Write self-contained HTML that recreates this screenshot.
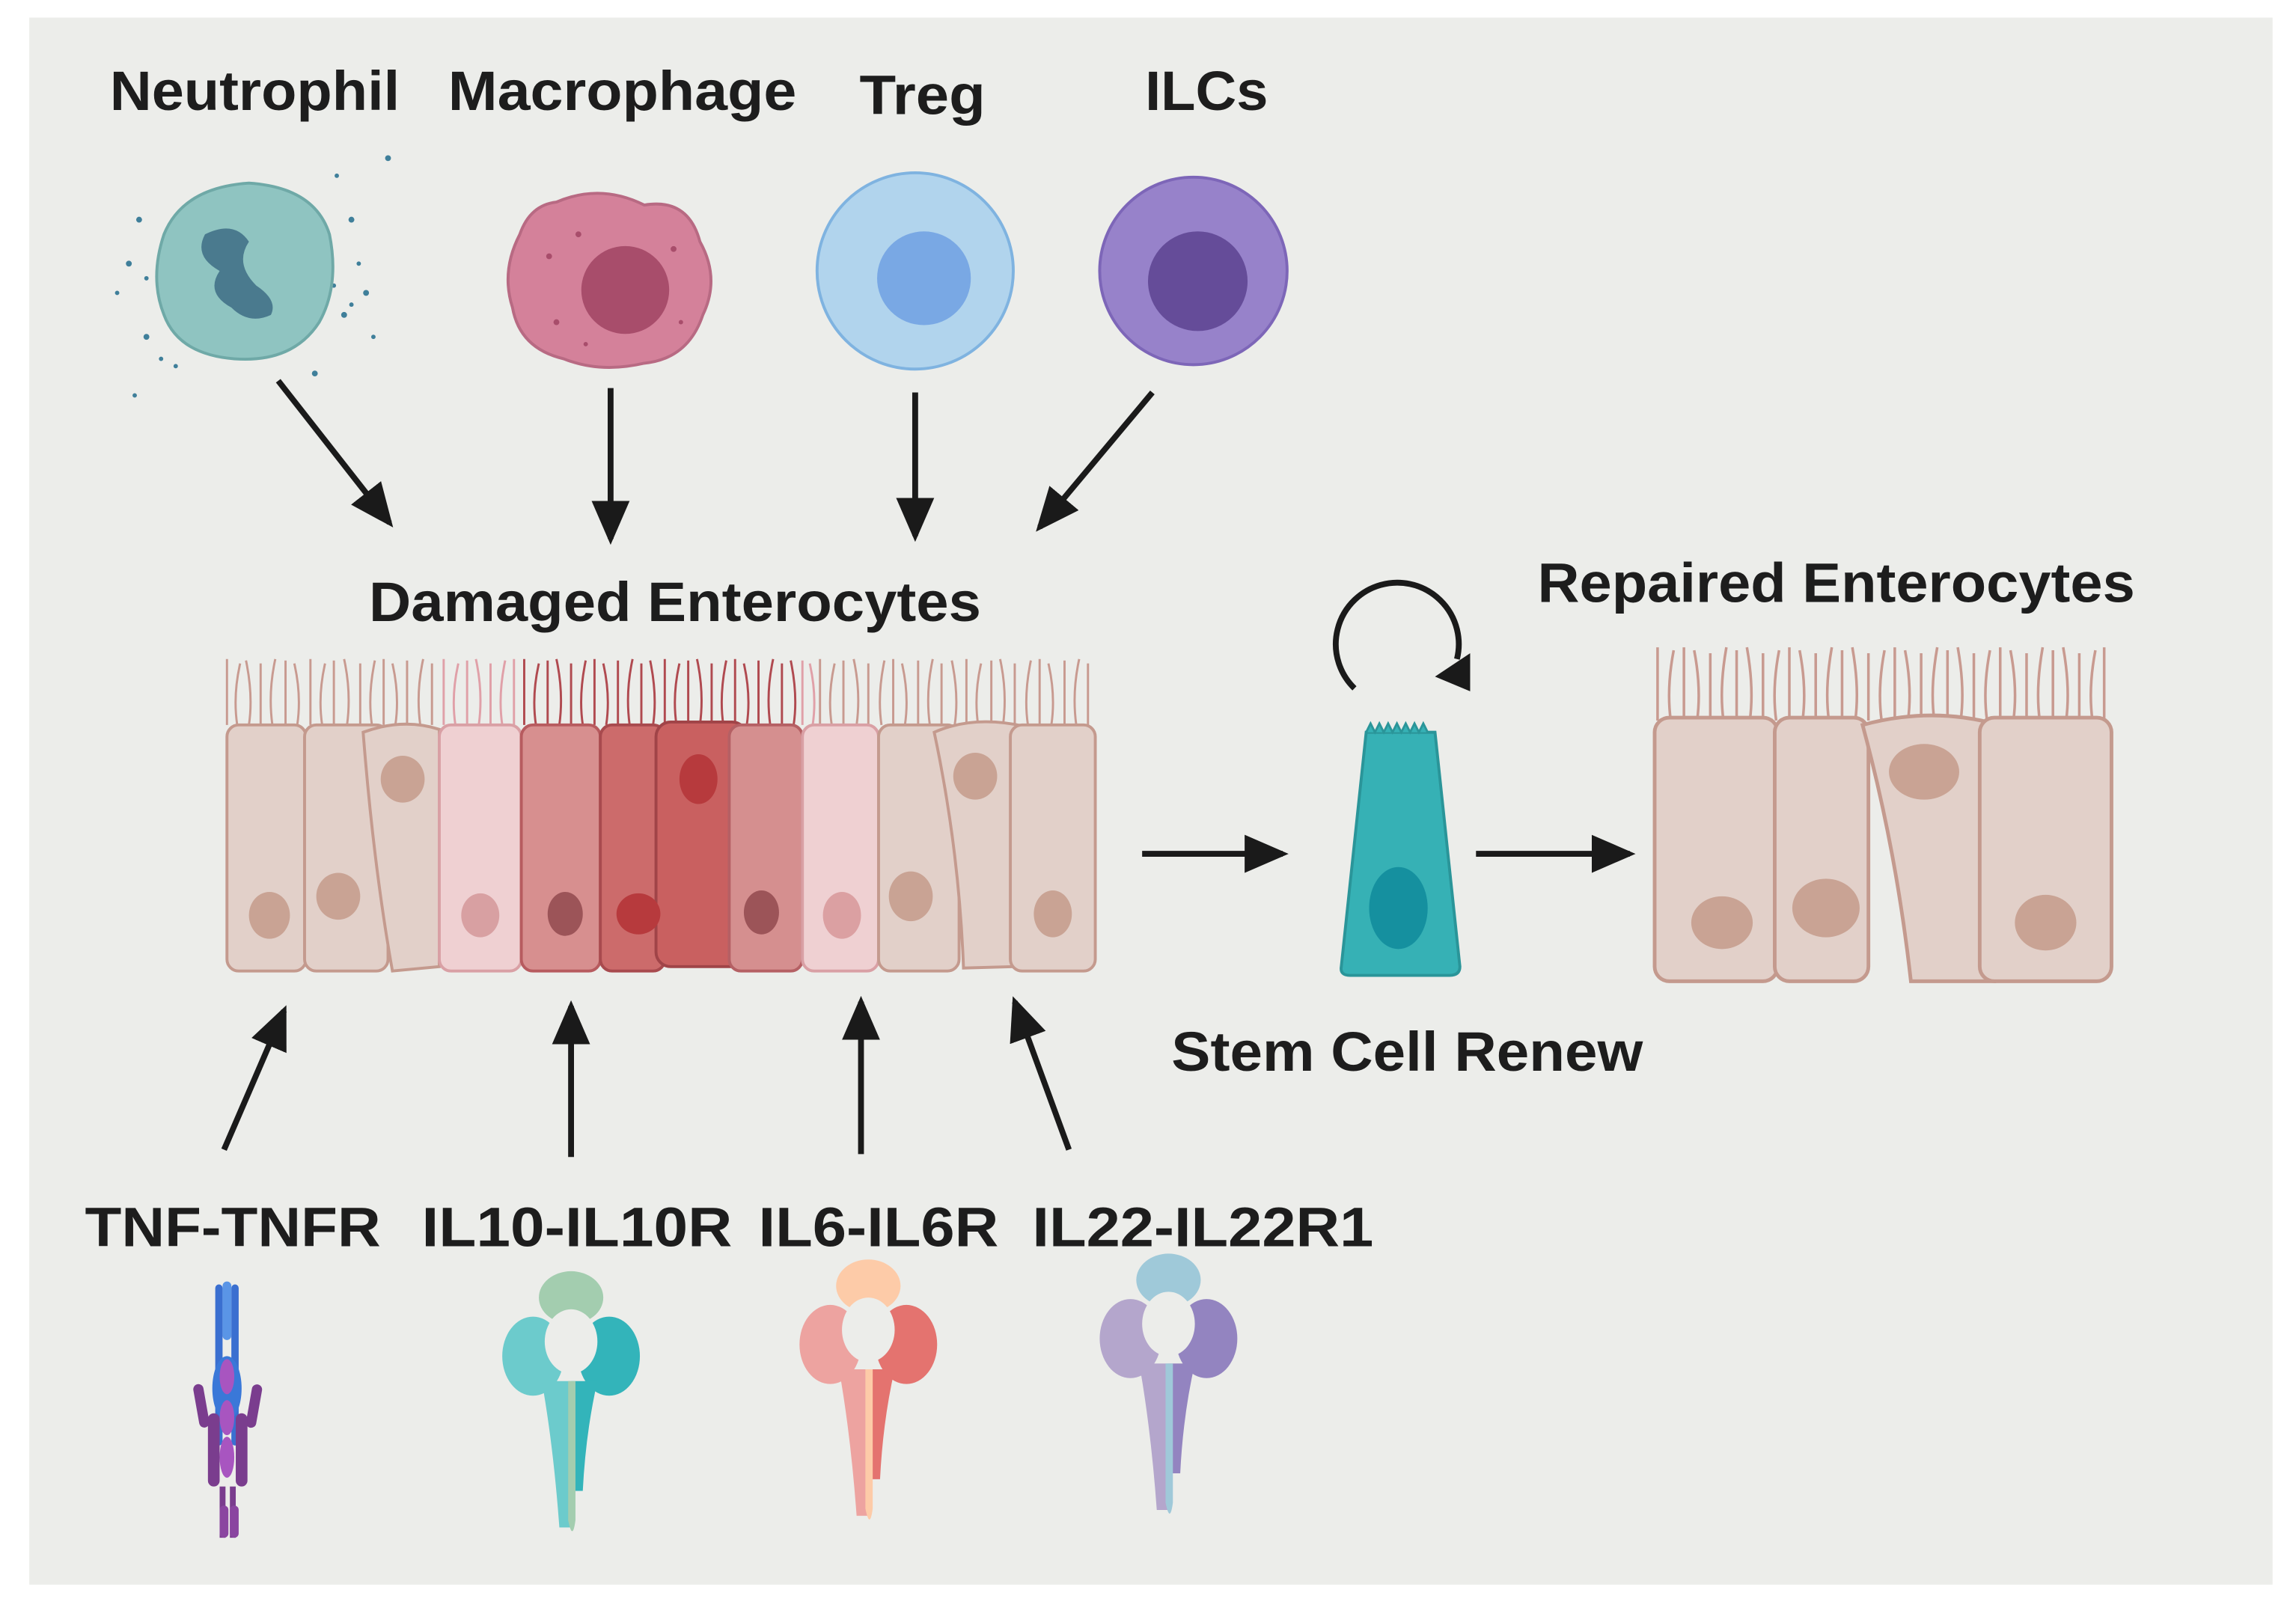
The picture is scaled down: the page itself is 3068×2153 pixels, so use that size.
<!DOCTYPE html>
<html><head><style>html,body{margin:0;padding:0;background:#fff}svg{display:block}</style></head>
<body>
<svg width="3068" height="2153" viewBox="0 0 1568 1100" preserveAspectRatio="none" xmlns="http://www.w3.org/2000/svg">
<defs>
<marker id="ah" markerWidth="30" markerHeight="26" refX="26" refY="13" orient="auto" markerUnits="userSpaceOnUse" viewBox="0 0 30 26"><path d="M0,0 L30,13 L0,26 z" fill="#1a1a1a"/></marker>
<g id="rec">
  <ellipse cx="0" cy="-32" rx="22" ry="18" fill="var(--a)"/>
  <ellipse cx="-26" cy="8" rx="21" ry="27" fill="var(--b)"/>
  <ellipse cx="26" cy="8" rx="21" ry="27" fill="var(--c)"/>
  <path d="M-20,25 L0,25 L0,125 L-8,125 Q-12,70 -20,25z" fill="var(--b)"/>
  <path d="M0,25 L18,25 Q10,60 8,100 L2,100z" fill="var(--c)"/>
  <path d="M-2,25 L3,25 L3,120 Q1,135 -2,120z" fill="var(--a)"/>
  <ellipse cx="0" cy="-2" rx="18" ry="22" fill="#ecedea"/>
</g>
</defs>
<rect x="20" y="12" width="1532" height="1070" fill="#ecedea"/>
<g font-family="Liberation Sans, sans-serif" font-weight="bold" font-size="38" fill="#1d1d1d">
<text x="75" y="75" textLength="198" lengthAdjust="spacingAndGlyphs">Neutrophil</text>
<text x="306" y="75" textLength="238" lengthAdjust="spacingAndGlyphs">Macrophage</text>
<text x="587" y="78" textLength="86" lengthAdjust="spacingAndGlyphs">Treg</text>
<text x="782" y="75" textLength="84" lengthAdjust="spacingAndGlyphs">ILCs</text>
<text x="252" y="424" textLength="418" lengthAdjust="spacingAndGlyphs">Damaged Enterocytes</text>
<text x="1050" y="411" textLength="408" lengthAdjust="spacingAndGlyphs">Repaired Enterocytes</text>
<text x="800" y="731" textLength="322" lengthAdjust="spacingAndGlyphs">Stem Cell Renew</text>
<text x="58" y="851" textLength="202" lengthAdjust="spacingAndGlyphs">TNF-TNFR</text>
<text x="288" y="851" textLength="212" lengthAdjust="spacingAndGlyphs">IL10-IL10R</text>
<text x="518" y="851" textLength="164" lengthAdjust="spacingAndGlyphs">IL6-IL6R</text>
<text x="705" y="851" textLength="233" lengthAdjust="spacingAndGlyphs">IL22-IL22R1</text>
</g>
<!-- Neutrophil -->
<g fill="#3f7f9a">
<circle cx="95" cy="150" r="2"/><circle cx="88" cy="180" r="2"/><circle cx="100" cy="230" r="2"/><circle cx="92" cy="270" r="1.5"/><circle cx="240" cy="150" r="2"/><circle cx="250" cy="200" r="2"/><circle cx="235" cy="215" r="2"/><circle cx="255" cy="230" r="1.5"/><circle cx="265" cy="108" r="2"/><circle cx="230" cy="120" r="1.5"/><circle cx="120" cy="250" r="1.5"/><circle cx="215" cy="255" r="2"/><circle cx="80" cy="200" r="1.5"/><circle cx="245" cy="180" r="1.5"/>
<circle cx="100" cy="190" r="1.5"/><circle cx="228" cy="195" r="1.5"/><circle cx="240" cy="208" r="1.5"/><circle cx="110" cy="245" r="1.5"/>
</g>
<path d="M112,160 Q125,128 170,125 Q215,128 225,160 Q232,195 218,220 Q200,248 160,245 Q122,242 112,215 Q102,190 112,160z" fill="#8fc4c1" stroke="#6fa9a7" stroke-width="2"/>
<path d="M140,160 Q160,150 170,165 Q160,180 175,195 Q190,205 185,215 Q170,222 158,210 Q140,200 150,185 Q132,175 140,160z" fill="#4a7a8e"/>
<!-- Macrophage -->
<path d="M380,138 Q410,125 440,140 Q470,135 478,165 Q492,190 480,215 Q470,245 440,248 Q410,255 385,245 Q355,238 350,210 Q342,185 355,160 Q362,140 380,138z" fill="#d4819a" stroke="#b86a83" stroke-width="2"/>
<circle cx="427" cy="198" r="30" fill="#a84d6b"/>
<g fill="#a84d6b"><circle cx="375" cy="175" r="2"/><circle cx="395" cy="160" r="2"/><circle cx="460" cy="170" r="2"/><circle cx="380" cy="220" r="2"/><circle cx="465" cy="220" r="1.5"/><circle cx="400" cy="235" r="1.5"/></g>
<!-- Treg -->
<circle cx="625" cy="185" r="67" fill="#b1d4ed" stroke="#7fb3e0" stroke-width="2"/>
<circle cx="631" cy="190" r="32" fill="#79a8e4"/>
<!-- ILC -->
<circle cx="815" cy="185" r="64" fill="#9782ca" stroke="#7d66b8" stroke-width="2"/>
<circle cx="818" cy="192" r="34" fill="#654c99"/>
<!-- arrows -->
<g stroke="#1a1a1a" stroke-width="4" marker-end="url(#ah)" fill="none">
<line x1="190" y1="260" x2="266" y2="357"/>
<line x1="417" y1="265" x2="417" y2="368"/>
<line x1="625" y1="268" x2="625" y2="366"/>
<line x1="787" y1="268" x2="710" y2="360"/>
<line x1="153" y1="785" x2="194" y2="690"/>
<line x1="390" y1="790" x2="390" y2="687"/>
<line x1="588" y1="788" x2="588" y2="684"/>
<line x1="730" y1="785" x2="693" y2="684"/>
<line x1="780" y1="583" x2="876" y2="583"/>
<line x1="1008" y1="583" x2="1113" y2="583"/>
</g>
<!-- microvilli damaged -->
<g stroke="#c89a90" stroke-width="1.5" fill="none">
<path d="M155,495 v-45 M162,495 q-3,-20 2,-42 M170,495 q3,-20 -2,-44 M178,495 v-42 M186,495 q-3,-22 2,-45 M195,495 v-44 M203,495 q3,-20 -2,-42 M212,495 v-45 M220,495 q-3,-20 2,-42 M228,495 v-44 M237,495 q3,-22 -2,-45 M246,495 v-42 M254,495 q-3,-20 2,-44 M262,495 v-45 M270,495 q3,-20 -2,-42 M278,495 v-44 M287,495 q-3,-22 2,-45 M295,495 v-42"/>
<path d="M560,495 v-45 M568,495 q-3,-20 2,-42 M576,495 v-44 M585,495 q3,-22 -2,-45 M593,495 v-42 M602,495 q-3,-20 2,-44 M610,495 v-45 M618,495 q3,-20 -2,-42 M627,495 v-44 M635,495 q-3,-22 2,-45 M643,495 v-42 M652,495 q3,-20 -2,-44 M660,495 v-45 M668,495 q-3,-20 2,-42 M677,495 v-44 M685,495 q3,-22 -2,-45 M693,495 v-42 M702,495 q-3,-20 2,-44 M710,495 v-45 M718,495 q3,-20 -2,-42 M727,495 v-44 M735,495 q-3,-22 2,-45 M743,495 v-42"/>
</g>
<g stroke="#e0a0a8" stroke-width="1.5" fill="none"><path d="M303,495 v-45 M311,495 q-3,-20 2,-42 M319,495 v-44 M327,495 q3,-22 -2,-45 M335,495 v-42 M343,495 q-3,-20 2,-44 M351,495 v-45 M548,495 v-44 M555,495 q3,-20 -2,-42"/></g>
<g stroke="#b04a50" stroke-width="1.5" fill="none"><path d="M358,495 v-45 M366,495 q-3,-20 2,-42 M374,495 v-44 M382,495 q3,-22 -2,-45 M390,495 v-42 M398,495 q-3,-20 2,-44 M406,495 v-45 M414,495 q3,-20 -2,-42 M422,495 v-44 M430,495 q-3,-22 2,-45 M438,495 v-42 M446,495 q3,-20 -2,-44 M454,495 v-45 M462,495 q-3,-20 2,-42 M470,495 v-44 M478,495 q3,-22 -2,-45 M486,495 v-42 M494,495 q-3,-20 2,-44 M502,495 v-45 M510,495 q3,-20 -2,-42 M518,495 v-44 M526,495 q-3,-22 2,-45 M534,495 v-42 M542,495 q3,-20 -2,-44"/></g>
<!-- damaged cells -->
<g stroke-width="2">
<rect x="155" y="495" width="54" height="168" rx="8" fill="#e2d0c9" stroke="#c49a8e"/>
<rect x="208" y="495" width="57" height="168" rx="8" fill="#e2d0c9" stroke="#c49a8e"/>
<path d="M248,500 Q275,490 300,498 L300,660 L268,663 Q255,590 248,500z" fill="#e2d0c9" stroke="#c49a8e"/>
<rect x="300" y="495" width="56" height="168" rx="8" fill="#efd0d2" stroke="#d9a0a5"/>
<rect x="356" y="495" width="54" height="168" rx="8" fill="#d78f8f" stroke="#b75b5f"/>
<rect x="410" y="495" width="44" height="168" rx="8" fill="#cc6b6b" stroke="#a84a4e"/>
<rect x="448" y="493" width="62" height="167" rx="10" fill="#c96060" stroke="#a04448"/>
<rect x="498" y="495" width="50" height="168" rx="8" fill="#d58f8f" stroke="#b56064"/>
<rect x="548" y="495" width="52" height="168" rx="8" fill="#efd0d2" stroke="#d9a0a5"/>
<rect x="600" y="495" width="55" height="168" rx="8" fill="#e2d0c9" stroke="#c49a8e"/>
<path d="M638,500 Q665,488 700,496 L692,660 L658,661 Q655,580 638,500z" fill="#e2d0c9" stroke="#c49a8e"/>
<rect x="690" y="495" width="58" height="168" rx="8" fill="#e2d0c9" stroke="#c49a8e"/>
</g>
<g>
<ellipse cx="184" cy="625" rx="14" ry="16" fill="#c9a394"/>
<ellipse cx="231" cy="612" rx="15" ry="16" fill="#c9a394"/>
<ellipse cx="275" cy="532" rx="15" ry="16" fill="#c9a394"/>
<ellipse cx="328" cy="625" rx="13" ry="15" fill="#d8a0a2"/>
<ellipse cx="386" cy="624" rx="12" ry="15" fill="#9c5458"/>
<ellipse cx="436" cy="624" rx="15" ry="14" fill="#b73a3d"/>
<ellipse cx="477" cy="532" rx="13" ry="17" fill="#b73a3d"/>
<ellipse cx="520" cy="623" rx="12" ry="15" fill="#9c5458"/>
<ellipse cx="575" cy="625" rx="13" ry="16" fill="#dba0a2"/>
<ellipse cx="622" cy="612" rx="15" ry="17" fill="#c9a394"/>
<ellipse cx="666" cy="530" rx="15" ry="16" fill="#c9a394"/>
<ellipse cx="719" cy="624" rx="13" ry="16" fill="#c9a394"/>
</g>
<!-- stem cell -->
<path d="M933,500 L980,500 L997,660 Q997,666 990,666 L922,666 Q915,666 916,660z" fill="#36b1b5" stroke="#2a9599" stroke-width="2"/>
<path d="M933,500 l3,-6 l3,6 l3,-6 l3,6 l3,-6 l3,6 l3,-6 l3,6 l3,-6 l3,6 l3,-6 l3,6 l3,-6 l3,6" fill="#36b1b5" stroke="#2a9599" stroke-width="1.5"/>
<ellipse cx="955" cy="620" rx="20" ry="28" fill="#15909f"/>
<path d="M925,470 A42,42 0 1 1 995,450" fill="none" stroke="#1a1a1a" stroke-width="4"/>
<path d="M980,462 L1004,472 L1004,446z" fill="#1a1a1a"/>
<!-- repaired -->
<g stroke="#c89a90" stroke-width="1.8" fill="none">
<path d="M1132,492 v-50 M1141,492 q-3,-22 2,-48 M1150,492 v-50 M1159,492 q3,-22 -2,-48 M1168,492 v-46 M1177,492 q-3,-22 2,-50 M1186,492 v-48 M1195,492 q3,-22 -2,-50 M1204,492 v-46 M1213,492 q-3,-22 2,-48 M1222,492 v-50 M1231,492 q3,-22 -2,-48 M1240,492 v-46 M1249,492 q-3,-22 2,-50 M1258,492 v-48 M1267,492 q3,-22 -2,-50 M1276,492 v-46 M1285,492 q-3,-22 2,-48 M1294,492 v-50 M1303,492 q3,-22 -2,-48 M1312,492 v-46 M1321,492 q-3,-22 2,-50 M1330,492 v-48 M1339,492 q3,-22 -2,-50 M1348,492 v-46 M1357,492 q-3,-22 2,-48 M1366,492 v-50 M1375,492 q3,-22 -2,-48 M1384,492 v-46 M1393,492 q-3,-22 2,-50 M1402,492 v-48 M1411,492 q3,-22 -2,-50 M1420,492 v-46 M1429,492 q-3,-22 2,-48 M1437,492 v-50"/>
</g>
<g stroke="#c49a8e" stroke-width="2.5" fill="#e2d0c9">
<rect x="1130" y="490" width="84" height="180" rx="10"/>
<rect x="1212" y="490" width="64" height="180" rx="10"/>
<path d="M1272,495 Q1320,482 1365,495 L1362,670 L1305,670 Q1295,580 1272,495z"/>
<rect x="1352" y="490" width="90" height="180" rx="10"/>
</g>
<ellipse cx="1176" cy="630" rx="21" ry="18" fill="#c9a394"/>
<ellipse cx="1247" cy="620" rx="23" ry="20" fill="#c9a394"/>
<ellipse cx="1314" cy="527" rx="24" ry="19" fill="#c9a394"/>
<ellipse cx="1397" cy="630" rx="21" ry="19" fill="#c9a394"/>
<!-- TNF receptor -->
<g>
<rect x="147" y="877" width="5" height="110" rx="2.5" fill="#3a6fd0"/>
<rect x="158" y="877" width="5" height="110" rx="2.5" fill="#3a6fd0"/>
<rect x="152" y="875" width="6" height="40" rx="3" fill="#5a95e6"/>
<ellipse cx="155" cy="948" rx="10" ry="22" fill="#3a78d8"/>
<rect x="134" y="945" width="7" height="30" rx="3.5" fill="#7a3d8e" transform="rotate(-10 137 960)"/>
<rect x="170" y="945" width="7" height="30" rx="3.5" fill="#7a3d8e" transform="rotate(10 173 960)"/>
<rect x="142" y="965" width="8" height="50" rx="4" fill="#7a3d8e"/>
<rect x="161" y="965" width="8" height="50" rx="4" fill="#7a3d8e"/>
<ellipse cx="155" cy="940" rx="5" ry="12" fill="#a855c0"/>
<ellipse cx="155" cy="968" rx="5" ry="12" fill="#a855c0"/>
<ellipse cx="155" cy="995" rx="5" ry="14" fill="#a855c0"/>
<rect x="150" y="1015" width="4" height="35" fill="#7a3d8e"/>
<rect x="157" y="1015" width="4" height="35" fill="#7a3d8e"/>
<rect x="150" y="1028" width="6" height="22" rx="3" fill="#8a45a0"/>
<rect x="157" y="1028" width="6" height="22" rx="3" fill="#8a45a0"/>
</g>
<use href="#rec" transform="translate(390,918)" style="--a:#a3cdaf;--b:#6ccbcc;--c:#33b4ba"/>
<use href="#rec" transform="translate(593,910)" style="--a:#fdcba8;--b:#eda3a0;--c:#e4736f"/>
<use href="#rec" transform="translate(798,906)" style="--a:#9fc9d9;--b:#b4a6cc;--c:#9384c0"/>
</svg>
</body></html>
